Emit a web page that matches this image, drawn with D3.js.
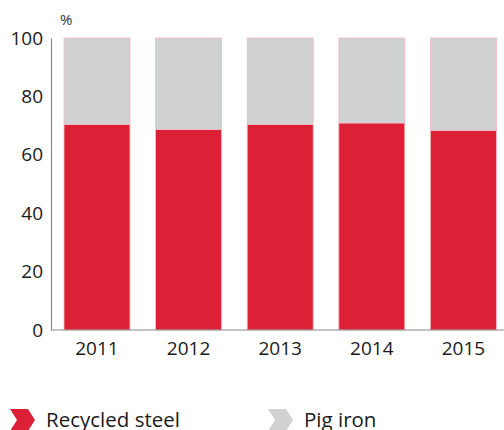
<!DOCTYPE html>
<html>
<head>
<meta charset="utf-8">
<script src="https://cdn.jsdelivr.net/npm/d3@7"></script>
<style>
  html, body { margin: 0; padding: 0; background: #fff; }
  svg { display: block; font-family: "Open Sans", "Noto Sans", sans-serif; }
</style>
</head>
<body>
<svg id="chart" width="504" height="430"></svg>
<script>
// Share of steel production input, by year (%)
const years = ["2011", "2012", "2013", "2014", "2015"];
const recycledSteel = [70.4, 68.7, 70.4, 70.9, 68.3];
const pigIron = recycledSteel.map(v => 100 - v);
const yTicks = [0, 20, 40, 60, 80, 100];
const seriesNames = ["Recycled steel", "Pig iron"];
const seriesColors = ["#DC2035", "#D0D1D3"];

const svg = d3.select("#chart");
const margin = { left: 51, top: 38 };
const plotBottom = 330;

const x = d3.scaleBand()
  .domain(years)
  .range([margin.left, 509.4])
  .paddingInner(0.28)
  .paddingOuter(0.142);

const y = d3.scaleLinear().domain([0, 100]).range([plotBottom, margin.top]);

const rows = years.map((yr, i) => ({ year: yr, recycled: recycledSteel[i], pig: pigIron[i] }));
const stacked = d3.stack().keys(["recycled", "pig"])(rows);

// Stacked bars
svg.append("g").selectAll("g")
  .data(stacked)
  .join("g")
  .attr("fill", (d, i) => seriesColors[i])
  .selectAll("rect")
  .data(d => d)
  .join("rect")
  .attr("x", d => x(d.data.year))
  .attr("width", x.bandwidth())
  .attr("y", d => y(d[1]))
  .attr("height", d => y(d[0]) - y(d[1]))
  .attr("stroke", "#F2B9C0")
  .attr("stroke-width", 0.8);

// Y axis
const yAxis = svg.append("g")
  .attr("transform", `translate(${margin.left},0)`)
  .call(d3.axisLeft(y).tickValues(yTicks).tickSize(0).tickPadding(8));
yAxis.select(".domain").attr("stroke", "#8a8a8a").attr("stroke-width", 1.2);
yAxis.selectAll("text")
  .attr("font-size", 19)
  .attr("fill", "#1a1a1a")
  .attr("font-family", "Open Sans, Noto Sans, sans-serif");

// X axis
const xAxis = svg.append("g")
  .attr("transform", `translate(0,${plotBottom})`)
  .call(d3.axisBottom(x).tickSize(0).tickPadding(12));
xAxis.select(".domain").remove();
xAxis.append("line")
  .attr("x1", margin.left).attr("x2", 504)
  .attr("stroke", "#8a8a8a").attr("stroke-width", 1.2);
xAxis.selectAll("text")
  .attr("font-size", 19)
  .attr("fill", "#1a1a1a")
  .attr("font-family", "Open Sans, Noto Sans, sans-serif");

// Unit label
svg.append("text")
  .attr("x", 60).attr("y", 25)
  .attr("font-size", 15)
  .attr("fill", "#333")
  .text("%");

// Legend with chevron markers
const chevron = "M0,0 L18,0 L25,11 L18,22 L0,22 L7,11 Z";
const legendPos = [10, 268];
const legend = svg.append("g").selectAll("g")
  .data(seriesNames)
  .join("g")
  .attr("transform", (d, i) => `translate(${legendPos[i]},409)`);
legend.append("path")
  .attr("d", chevron)
  .attr("fill", (d, i) => seriesColors[i]);
legend.append("text")
  .attr("x", 36).attr("y", 18)
  .attr("font-size", 20.5)
  .attr("fill", "#1a1a1a")
  .text(d => d);
</script>
</body>
</html>
